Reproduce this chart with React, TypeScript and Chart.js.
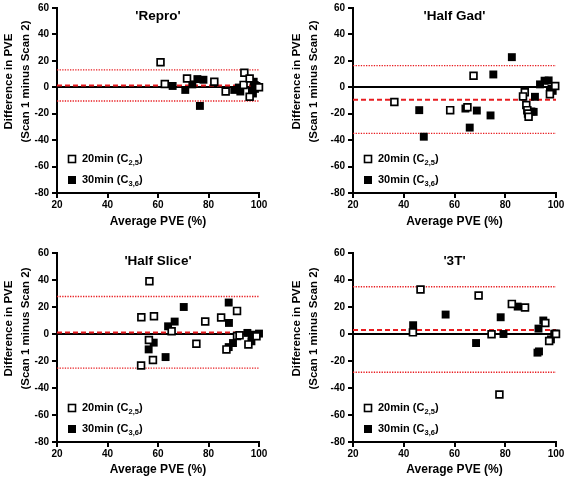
import React, { useEffect, useRef } from 'react';
import { Chart, registerables } from 'chart.js';
Chart.register(...registerables);

// ---------- DATA ----------
const panelTitles = ["'Repro'", "'Half Gad'", "'Half Slice'", "'3T'"];
const yTitleLines = ['Difference in PVE', '(Scan 1 minus Scan 2)'];
const xTitle = 'Average PVE (%)';
const legendMain = ['20min (C', '30min (C'];
const legendSub = ['2,5', '3,6'];

const xMin = 20, xMax = 100, xStep = 20;
const yMin = -80, yMax = 60, yStep = 20;

// 'Repro'
const reproOpenX = [61, 62.7, 71.5, 82.3, 86.8, 94.2, 93.9, 96.3, 96.3, 100];
const reproOpenY = [18.9, 2.5, 6.7, 4.2, -3.2, 11, 1.8, 6.7, -7.2, 0];
const reproFilledX = [65.8, 70.8, 73.6, 75.6, 78, 76.6, 90.2, 92, 92.6, 97.9, 98.3, 97.2, 97.6, 98.4, 99];
const reproFilledY = [1, -2, 2.2, 6.2, 5.7, -14.1, -2, -0.2, -3.2, 4.2, 1.7, -2.7, -4.7, -1.2, 1];
const reproBias = [1.3, 13.2, -10.4]; // mean, upper, lower

// 'Half Gad'
const gadOpenX = [36.3, 58.3, 65.1, 67.5, 87.7, 87, 88.3, 88.7, 89, 89.2, 97.6, 99.7];
const gadOpenY = [-11.1, -17.3, -15.1, 8.7, -3.7, -6.9, -13.4, -17.3, -19.8, -22.3, -5.2, 1];
const gadFilledX = [46.1, 47.9, 64.3, 66, 68.8, 74.2, 75.3, 82.6, 90.3, 91.2, 91.7, 93.7, 95.5, 97.1, 98.2, 98.7, 97.6];
const gadFilledY = [-17.3, -37.4, -16.1, -30.5, -17.6, -21.3, 9.7, 22.8, -18.3, -18.6, -7.2, 2.2, 5, 5.2, -1.2, -2.7, -3.2];
const gadBias = [-9.5, 16.4, -34.9];

// 'Half Slice'
const sliceOpenX = [56.6, 53.4, 58.4, 56.4, 58, 53.3, 65.4, 75.2, 78.7, 85, 91.3, 87.1, 91.3, 92.3, 95.8, 99];
const sliceOpenY = [39.1, 12.4, 13.1, -4.5, -19.3, -23.3, 2, -7.2, 9.2, 12.2, 17.1, -11.4, -1.5, -1, -7.7, -1.7];
const sliceFilledX = [56.3, 58.3, 63, 64, 66.6, 70.2, 88, 88.1, 88, 89.7, 95.4, 97.2, 97, 100];
const sliceFilledY = [-11.4, -6.4, -17.1, 5.7, 9.2, 20, 23.3, 8.2, -9.7, -6.7, 0.8, -0.5, -5.4, 0.3];
const sliceBias = [1.2, 27.8, -25.3];

// '3T'
const t3OpenX = [43.6, 46.6, 69.5, 74.6, 82.6, 87.8, 95.8, 97.3, 77.7, 100];
const t3OpenY = [1.2, 33, 28.5, -0.2, 22.3, 19.6, 8.2, -5.2, -44.8, 0];
const t3FilledX = [43.7, 56.5, 68.5, 78.2, 79.3, 84.9, 93.1, 95, 92.7, 93.3, 98, 99.3, 99.9];
const t3FilledY = [6.5, 14.4, -6.7, 12.4, 0, 20.3, 4, 10, -13.8, -12.9, -4, 0.2, 0.3];
const t3Bias = [3, 35, -28.3];

const panelOpenX = [reproOpenX, gadOpenX, sliceOpenX, t3OpenX];
const panelOpenY = [reproOpenY, gadOpenY, sliceOpenY, t3OpenY];
const panelFilledX = [reproFilledX, gadFilledX, sliceFilledX, t3FilledX];
const panelFilledY = [reproFilledY, gadFilledY, sliceFilledY, t3FilledY];
const panelBias = [reproBias, gadBias, sliceBias, t3Bias];

// ---------- LAYOUT ----------
const LAYOUT = [
  { left: 0, top: 0, w: 283, h: 240, yWidth: 57, xHeight: 36, pad: { left: 0, top: 5, right: 24, bottom: 11 }, yTitleX: 8.5 },
  { left: 283, top: 0, w: 284, h: 240, yWidth: 70, xHeight: 36, pad: { left: 0, top: 5, right: 11, bottom: 11 }, yTitleX: 13.5 },
  { left: 0, top: 240, w: 283, h: 239, yWidth: 57, xHeight: 35, pad: { left: 0, top: 13, right: 24, bottom: 2 }, yTitleX: 8.5 },
  { left: 283, top: 240, w: 284, h: 239, yWidth: 70, xHeight: 35, pad: { left: 0, top: 13, right: 11, bottom: 2 }, yTitleX: 13.5 },
];

const FONT = '"Liberation Sans", Arial, Helvetica, sans-serif';
const RED = 'rgb(232, 28, 32)';

function zip(xs: number[], ys: number[]) {
  return xs.map((x, i) => ({ x, y: ys[i] }));
}

function Panel({ idx }: { idx: number }) {
  const ref = useRef<HTMLCanvasElement | null>(null);
  const L = LAYOUT[idx];
  useEffect(() => {
    if (!ref.current) return;
    const [mean, upper, lower] = panelBias[idx];
    const annot = {
      id: 'annot' + idx,
      afterDraw(chart: any) {
        const { ctx, chartArea } = chart;
        const { left, right, top, bottom } = chartArea;
        ctx.save();
        ctx.fillStyle = '#000';
        // panel title
        ctx.font = `bold 13.5px ${FONT}`;
        ctx.textAlign = 'center';
        ctx.textBaseline = 'middle';
        ctx.fillText(panelTitles[idx], (left + right) / 2, top + 8);
        // y title
        ctx.font = `bold 11.5px ${FONT}`;
        const cy = (top + bottom) / 2 - 19;
        yTitleLines.forEach((line, i) => {
          ctx.save();
          ctx.translate(L.yTitleX + i * 17.3, cy);
          ctx.rotate(-Math.PI / 2);
          ctx.fillText(line, 0, 0);
          ctx.restore();
        });
        // legend
        const rows = [bottom - 34, bottom - 13];
        rows.forEach((ry, i) => {
          const sx = left + 15;
          if (i === 0) {
            ctx.fillStyle = '#fff';
            ctx.fillRect(sx - 3.5, ry - 3.5, 7, 7);
            ctx.strokeStyle = '#000';
            ctx.lineWidth = 1.6;
            ctx.strokeRect(sx - 3.5, ry - 3.5, 7, 7);
          } else {
            ctx.fillStyle = '#000';
            ctx.fillRect(sx - 4, ry - 4, 8, 8);
          }
          ctx.fillStyle = '#000';
          ctx.textAlign = 'left';
          ctx.textBaseline = 'middle';
          let tx = left + 25;
          ctx.font = `bold 11px ${FONT}`;
          ctx.fillText(legendMain[i], tx, ry);
          tx += ctx.measureText(legendMain[i]).width;
          ctx.font = `bold 7.5px ${FONT}`;
          ctx.fillText(legendSub[i], tx, ry + 3.5);
          tx += ctx.measureText(legendSub[i]).width;
          ctx.font = `bold 11px ${FONT}`;
          ctx.fillText(')', tx, ry);
        });
        ctx.restore();
      },
    };
    const chart = new Chart(ref.current, {
      type: 'scatter',
      data: {
        datasets: [
          {
            label: legendMain[0] + legendSub[0] + ')',
            data: zip(panelOpenX[idx], panelOpenY[idx]),
            pointStyle: 'rect',
            pointRadius: 4.8,
            pointBackgroundColor: '#fff',
            pointBorderColor: '#000',
            pointBorderWidth: 1.7,
            clip: false,
          } as any,
          {
            label: legendMain[1] + legendSub[1] + ')',
            data: zip(panelFilledX[idx], panelFilledY[idx]),
            pointStyle: 'rect',
            pointRadius: 5.6,
            pointBackgroundColor: '#000',
            pointBorderColor: '#000',
            pointBorderWidth: 0,
            clip: false,
          } as any,
          {
            label: 'mean',
            data: [{ x: xMin, y: mean }, { x: xMax, y: mean }],
            showLine: true,
            borderColor: RED,
            borderWidth: 2,
            borderDash: [5, 3],
            pointRadius: 0,
          } as any,
          {
            label: 'upper',
            data: [{ x: xMin, y: upper }, { x: xMax, y: upper }],
            showLine: true,
            borderColor: RED,
            borderWidth: 1.4,
            borderDash: [1.3, 1.3],
            pointRadius: 0,
          } as any,
          {
            label: 'lower',
            data: [{ x: xMin, y: lower }, { x: xMax, y: lower }],
            showLine: true,
            borderColor: RED,
            borderWidth: 1.4,
            borderDash: [1.3, 1.3],
            pointRadius: 0,
          } as any,
        ],
      },
      options: {
        animation: false,
        responsive: false,
        events: [],
        layout: { padding: L.pad },
        plugins: { legend: { display: false }, tooltip: { enabled: false }, title: { display: false } },
        scales: {
          x: {
            type: 'linear',
            min: xMin,
            max: xMax,
            afterFit: (s: any) => { s.height = L.xHeight; },
            ticks: {
              stepSize: xStep,
              color: '#000',
              padding: 2,
              font: { family: FONT, weight: 'bold', size: 10, lineHeight: 1 },
            },
            grid: { display: true, drawOnChartArea: false, drawTicks: true, tickLength: 5, color: '#000', lineWidth: 2 },
            border: { display: true, color: '#000', width: 2 },
            title: {
              display: true,
              text: xTitle,
              color: '#000',
              padding: 0,
              font: { family: FONT, weight: 'bold', size: 12 },
            },
          },
          y: {
            type: 'linear',
            min: yMin,
            max: yMax,
            afterFit: (s: any) => { s.width = L.yWidth; },
            ticks: {
              stepSize: yStep,
              color: '#000',
              padding: 3,
              font: { family: FONT, weight: 'bold', size: 10, lineHeight: 1 },
            },
            grid: {
              display: true,
              drawOnChartArea: true,
              drawTicks: true,
              tickLength: 5,
              color: (c: any) => (c.tick && c.tick.value === 0 ? '#000' : 'rgba(0,0,0,0)'),
              tickColor: '#000',
              lineWidth: 2,
            },
            border: { display: true, color: '#000', width: 2 },
            title: { display: false },
          },
        },
      } as any,
      plugins: [annot],
    });
    return () => chart.destroy();
  }, [idx]);
  return (
    <div style={{ position: 'absolute', left: L.left, top: L.top, width: L.w, height: L.h }}>
      <canvas ref={ref} width={L.w} height={L.h} style={{ display: 'block' }} />
    </div>
  );
}

export default function App() {
  return (
    <div style={{ position: 'fixed', left: 0, top: 0, width: 567, height: 479, background: '#fff', overflow: 'hidden' }}>
      {[0, 1, 2, 3].map((i) => (
        <Panel key={i} idx={i} />
      ))}
    </div>
  );
}
